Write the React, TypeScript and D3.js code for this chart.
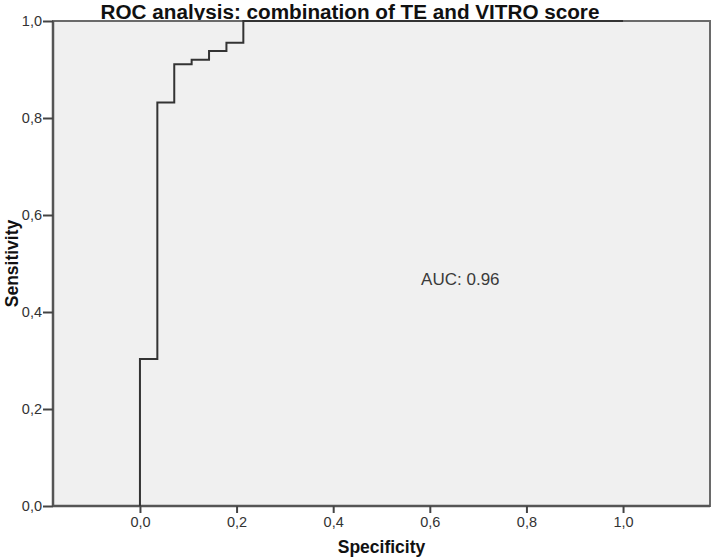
import React, { useRef, useEffect } from 'react';
import * as d3 from 'd3';

// ROC curve points (1 - specificity on x, sensitivity on y)
const specificity = [0, 0, 0.036, 0.071, 0.107, 0.143, 0.179, 0.214, 1.0];
const sensitivity = [0, 0.303, 0.832, 0.911, 0.92, 0.938, 0.955, 1.0, 1.0];
const tickValues = [0, 0.2, 0.4, 0.6, 0.8, 1.0];
const tickLabels = ['0,0', '0,2', '0,4', '0,6', '0,8', '1,0'];
const title = 'ROC analysis: combination of TE and VITRO score';
const aucLabel = 'AUC: 0.96';

const App = () => {
  const xAxisRef = useRef<SVGGElement>(null);
  const yAxisRef = useRef<SVGGElement>(null);

  // SET DIMENSIONS
  const w = 713,
    h = 559,
    margin = { top: 21, bottom: 53, left: 53, right: 3 };
  const width = w - margin.left - margin.right,
    height = h - margin.top - margin.bottom;

  const xScale = d3.scaleLinear().domain([-0.18, 1.18]).range([0, width]);
  const yScale = d3.scaleLinear().domain([0, 1]).range([height, 0]);

  const points: [number, number][] = specificity.map((s, i) => [s, sensitivity[i]]);
  const line = d3
    .line<[number, number]>()
    .x((d) => xScale(d[0]))
    .y((d) => yScale(d[1]))
    .curve(d3.curveStepAfter);

  useEffect(() => {
    const fmt = (d: d3.NumberValue) => tickLabels[tickValues.indexOf(+d)];
    const xAxis = d3.axisBottom(xScale).tickValues(tickValues).tickFormat(fmt).tickSize(7).tickPadding(4);
    const yAxis = d3.axisLeft(yScale).tickValues(tickValues).tickFormat(fmt).tickSize(10).tickPadding(1);

    const styleAxis = (g: d3.Selection<SVGGElement, unknown, null, undefined>) => {
      g.select('.domain').remove();
      g.selectAll('line').attr('stroke', '#444').attr('stroke-width', 2);
      g.selectAll('text')
        .attr('fill', '#333')
        .attr('font-size', 14.5)
        .attr('font-family', 'Liberation Sans, Arial, sans-serif');
    };
    d3.select(xAxisRef.current!).call(xAxis).call(styleAxis);
    d3.select(yAxisRef.current!).call(yAxis).call(styleAxis);
  }, []);

  return (
    <svg width={w} height={h} style={{ position: 'absolute', left: 0, top: 0 }}>
      <text
        x={350}
        y={19}
        textAnchor="middle"
        fontFamily="Liberation Sans, Arial, sans-serif"
        fontWeight="bold"
        fontSize={20.7}
        fill="#111"
      >
        {title}
      </text>
      <g transform={`translate(${margin.left},${margin.top})`}>
        <rect x={0} y={0} width={width} height={height} fill="#f0f0f0" stroke="#6a6a6a" strokeWidth={2} />
        <line x1={0} x2={0} y1={0} y2={height} stroke="#555" strokeWidth={2.5} />
        <line x1={0} x2={width} y1={height} y2={height} stroke="#555" strokeWidth={2.5} />
        <path d={line(points) || ''} fill="none" stroke="#333" strokeWidth={2} />
        <text
          x={xScale(0.582)}
          y={yScale(0.455)}
          fontFamily="Liberation Sans, Arial, sans-serif"
          fontSize={17}
          fill="#3a3a3a"
        >
          {aucLabel}
        </text>
        <g ref={xAxisRef} transform={`translate(0,${height})`} />
        <g ref={yAxisRef} />
      </g>
      <text
        x={margin.left + xScale(0.5)}
        y={553}
        textAnchor="middle"
        fontFamily="Liberation Sans, Arial, sans-serif"
        fontWeight="bold"
        fontSize={17.5}
        fill="#111"
      >
        Specificity
      </text>
      <text
        transform={`translate(18,${margin.top + yScale(0.5)}) rotate(-90)`}
        textAnchor="middle"
        fontFamily="Liberation Sans, Arial, sans-serif"
        fontWeight="bold"
        fontSize={17.5}
        fill="#111"
      >
        Sensitivity
      </text>
    </svg>
  );
};

export default App;
